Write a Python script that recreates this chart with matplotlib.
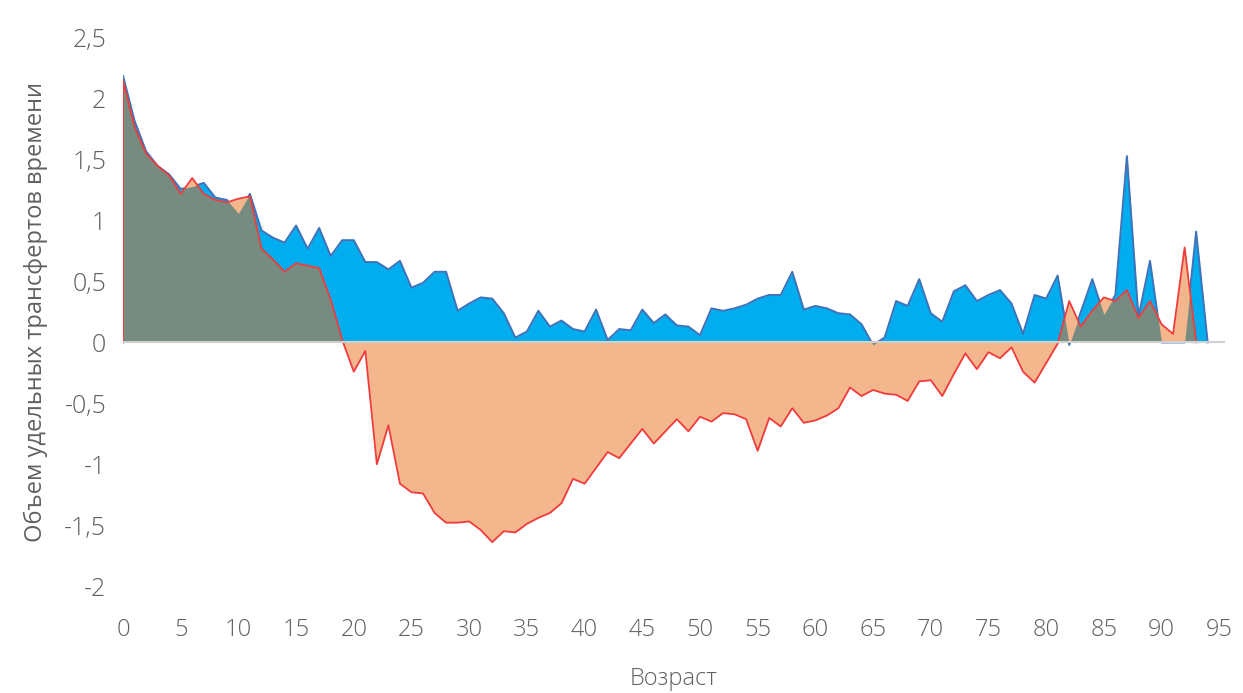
import numpy as np
import matplotlib
matplotlib.use("Agg")
from matplotlib import pyplot as plt

# значения по возрастам
ages_blue = np.arange(0, 95)
blue = [2.19, 1.82, 1.57, 1.45, 1.38, 1.26, 1.28, 1.31, 1.19, 1.17,
        1.06, 1.22, 0.92, 0.86, 0.82, 0.96, 0.77, 0.94, 0.71, 0.84,
        0.84, 0.66, 0.66, 0.60, 0.67, 0.45, 0.49, 0.58, 0.58, 0.26,
        0.32, 0.37, 0.36, 0.24, 0.04, 0.09, 0.26, 0.13, 0.18, 0.11,
        0.09, 0.27, 0.02, 0.11, 0.10, 0.27, 0.16, 0.23, 0.14, 0.13,
        0.06, 0.28, 0.26, 0.28, 0.31, 0.36, 0.39, 0.39, 0.58, 0.27,
        0.30, 0.28, 0.24, 0.23, 0.15, -0.02, 0.04, 0.34, 0.30, 0.52,
        0.24, 0.17, 0.42, 0.47, 0.34, 0.39, 0.43, 0.32, 0.07, 0.39,
        0.36, 0.55, -0.02, 0.25, 0.52, 0.23, 0.39, 1.53, 0.21, 0.67,
        0.0, 0.0, 0.0, 0.91, 0.0]

ages_red = np.arange(0, 94)
red = [2.15, 1.77, 1.55, 1.45, 1.37, 1.22, 1.35, 1.22, 1.17, 1.15,
       1.18, 1.20, 0.77, 0.68, 0.58, 0.65, 0.63, 0.61, 0.35, 0.02,
       -0.24, -0.07, -1.00, -0.68, -1.16, -1.23, -1.24, -1.40, -1.48, -1.48,
       -1.47, -1.54, -1.64, -1.55, -1.56, -1.49, -1.44, -1.40, -1.32, -1.12,
       -1.16, -1.03, -0.90, -0.95, -0.83, -0.71, -0.83, -0.73, -0.63, -0.73,
       -0.61, -0.65, -0.58, -0.59, -0.63, -0.89, -0.62, -0.69, -0.54, -0.66,
       -0.64, -0.60, -0.54, -0.37, -0.44, -0.39, -0.42, -0.43, -0.48, -0.32,
       -0.31, -0.44, -0.26, -0.09, -0.22, -0.08, -0.13, -0.04, -0.24, -0.33,
       -0.17, -0.01, 0.34, 0.13, 0.26, 0.37, 0.34, 0.43, 0.20, 0.34,
       0.15, 0.07, 0.78, 0.0]

x_ticks = list(range(0, 100, 5))
y_ticks = [-2, -1.5, -1, -0.5, 0, 0.5, 1, 1.5, 2, 2.5]
y_labels = ["-2", "-1,5", "-1", "-0,5", "0", "0,5", "1", "1,5", "2", "2,5"]

c_blue = "#00adef"
c_blue_edge = "#3f72b8"
c_orange = "#f4b68c"
c_red = "#f03c3c"
c_gray = "#768c80"
c_text = "#606060"
fam = ["Open Sans", "DejaVu Sans"]

fig = plt.figure(figsize=(12.43, 6.93), dpi=100)
ax = fig.add_axes([123 / 1243, 107 / 693, (1225 - 123) / 1243, (586 - 38) / 693])

ax.fill_between(ages_blue, 0, blue, color=c_blue, lw=0, zorder=1)
ax.plot(np.r_[0, ages_blue], np.r_[0, blue], color=c_blue_edge, lw=1.4, zorder=2)
ax.fill_between(ages_red, 0, red, color=c_orange, lw=0, zorder=3)

# общая часть двух областей
xs = np.linspace(0, 94, 6000)
bi = np.interp(xs, ages_blue, blue)
ri = np.interp(xs, ages_red, red, right=0)
ov = np.where(bi * ri > 0, np.sign(bi) * np.minimum(np.abs(bi), np.abs(ri)), 0)
ax.fill_between(xs, 0, ov, color=c_gray, lw=0, zorder=4)

ax.plot(np.r_[0, ages_red], np.r_[0, red], color=c_red, lw=1.3, zorder=5)
ax.axhline(0, color="#d0d0d0", lw=1.5, zorder=6)

ax.set_xlim(0, 95.5)
ax.set_ylim(-2, 2.5)
for s in ax.spines.values():
    s.set_visible(False)
ax.tick_params(length=0, colors=c_text)
ax.set_xticks(x_ticks)
ax.set_xticklabels([str(t) for t in x_ticks], fontsize=17, family=fam, weight="light")
ax.set_yticks(y_ticks)
ax.set_yticklabels(y_labels, fontsize=18, family=fam, weight="light")
ax.tick_params(axis="x", pad=23)
ax.tick_params(axis="y", pad=12)

ax.set_xlabel("Возраст", fontsize=17, color=c_text, labelpad=18, family=fam, weight="light")
ax.set_ylabel("Объем удельных трансфертов времени", fontsize=17, color=c_text,
              labelpad=12, family=fam)

fig.savefig("out.png", dpi=100)
